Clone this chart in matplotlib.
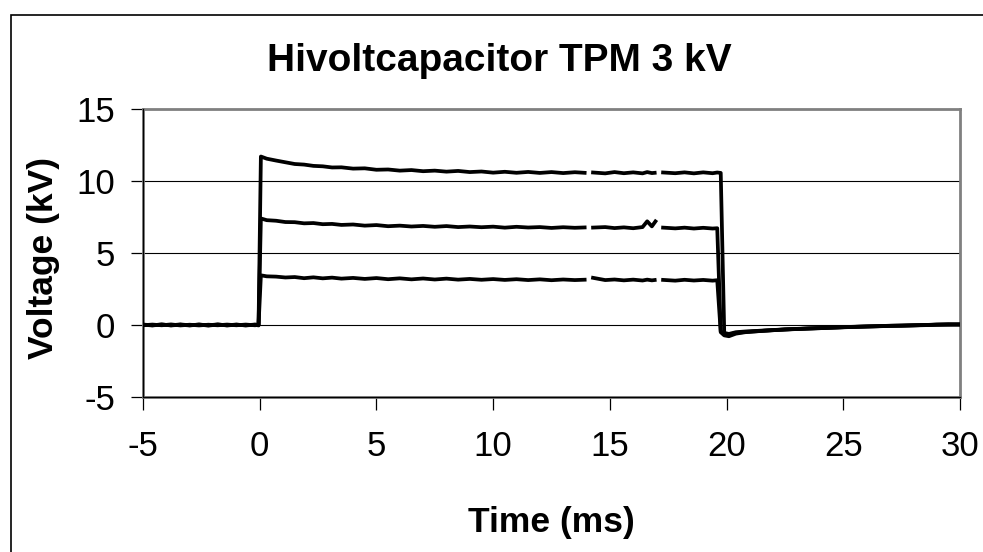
import numpy as np
import matplotlib
matplotlib.use("Agg")
import matplotlib.pyplot as plt
from matplotlib.patches import Rectangle

plt.rcParams['font.family'] = ['Liberation Sans', 'DejaVu Sans']
plt.rcParams['axes.unicode_minus'] = False

# =========== data ===========
nan = np.nan
time_ms = [
    -5.0, -4.6, -4.2, -3.8, -3.4, -3.0, -2.6, -2.2, -1.8, -1.4, -1.0, -0.6, -0.2,
    -0.05, 0.05,
    0.3, 0.7, 1.1, 1.5, 1.9, 2.3, 2.7, 3.1, 3.5, 4.0,
    4.5, 5.0, 5.5, 6.0, 6.5, 7.0, 7.5, 8.0, 8.5, 9.0,
    9.5, 10.0, 10.5, 11.0, 11.5, 12.0, 12.5, 13.0, 13.5, 14.0,
    14.1, 14.2, 14.8, 15.2, 15.6, 16.0, 16.4, 16.6, 16.8, 17.0,
    17.1, 17.2, 17.8, 18.2, 18.6, 19.0, 19.4, 19.6, 19.75, 19.9,
    20.1, 20.4, 20.8, 21.2, 21.6, 22.0, 22.5, 23.0, 23.5, 24.0,
    24.5, 25.0, 25.5, 26.0, 26.5, 27.0, 27.5, 28.0, 28.5, 29.0, 29.5, 30.0,
]

v_high = [
    0.02, -0.03, 0.03, -0.02, 0.04, -0.02, 0.03, -0.04, 0.03, -0.02, 0.03, -0.03, 0.02,
    -0.03, 11.7,
    11.55, 11.42, 11.3, 11.18, 11.14, 11.05, 11.02, 10.94, 10.95, 10.86,
    10.88, 10.78, 10.8, 10.72, 10.76, 10.68, 10.72, 10.65, 10.7, 10.62,
    10.66, 10.58, 10.64, 10.57, 10.63, 10.56, 10.62, 10.55, 10.61, 10.56,
    nan, 10.6, 10.53, 10.62, 10.54, 10.6, 10.53, 10.62, 10.55, 10.58,
    nan, 10.6, 10.54, 10.6, 10.53, 10.6, 10.54, 10.59, 10.56, -0.55,
    -0.62, -0.5, -0.45, -0.42, -0.38, -0.35, -0.3, -0.28, -0.24, -0.22,
    -0.18, -0.15, -0.12, -0.1, -0.08, -0.05, -0.04, -0.02, 0.0, 0.03, 0.02, 0.05,
]

v_mid = [
    -0.02, 0.03, -0.02, 0.04, -0.03, 0.02, -0.03, 0.02, -0.02, 0.03, -0.02, 0.03, -0.02,
    0.02, 7.4,
    7.28, 7.24, 7.15, 7.14, 7.06, 7.08, 7.0, 7.02, 6.95, 6.98,
    6.9, 6.94, 6.86, 6.9, 6.84, 6.88, 6.82, 6.87, 6.8, 6.84,
    6.79, 6.83, 6.76, 6.82, 6.77, 6.8, 6.74, 6.79, 6.75, 6.78,
    nan, 6.76, 6.8, 6.73, 6.78, 6.72, 6.8, 7.2, 6.85, 7.3,
    nan, 6.77, 6.71, 6.76, 6.7, 6.75, 6.7, 6.72, -0.45, -0.6,
    -0.68, -0.55, -0.48, -0.44, -0.4, -0.36, -0.32, -0.28, -0.25, -0.22,
    -0.19, -0.16, -0.13, -0.11, -0.09, -0.06, -0.05, -0.03, -0.01, 0.02, 0.04, 0.03,
]

v_low = [
    0.03, -0.02, 0.04, -0.03, 0.02, -0.03, 0.03, -0.02, 0.04, -0.03, 0.02, -0.02, 0.03,
    0.0, 3.45,
    3.38, 3.36, 3.3, 3.33, 3.25, 3.31, 3.24, 3.29, 3.22, 3.27,
    3.2, 3.26, 3.18, 3.24, 3.17, 3.23, 3.16, 3.22, 3.15, 3.2,
    3.14, 3.19, 3.13, 3.18, 3.12, 3.17, 3.11, 3.16, 3.12, 3.15,
    nan, 3.3, 3.12, 3.16, 3.1, 3.15, 3.09, 3.15, 3.1, 3.14,
    nan, 3.14, 3.08, 3.14, 3.09, 3.13, 3.08, 3.11, -0.5, -0.72,
    -0.78, -0.6, -0.5, -0.45, -0.4, -0.36, -0.31, -0.27, -0.24, -0.21,
    -0.18, -0.15, -0.13, -0.1, -0.08, -0.06, -0.04, -0.02, 0.0, 0.02, 0.05, 0.03,
]

x_ticks = [-5, 0, 5, 10, 15, 20, 25, 30]
y_ticks = [-5, 0, 5, 10, 15]

title = "Hivoltcapacitor TPM 3 kV"
x_label = "Time (ms)"
y_label = "Voltage (kV)"

W, H = 983, 552
fig = plt.figure(figsize=(W / 100, H / 100), dpi=100)

# outer chart border (bottom/right run off the picture)
fig.patches.append(Rectangle((11 / W, -0.1), 1.2, 1 - 15 / H + 0.1,
                             transform=fig.transFigure, fill=False,
                             edgecolor='black', lw=1.2, clip_on=False))

ax = fig.add_axes([143 / W, 1 - 397 / H, (960 - 143) / W, (397 - 109) / H])

for v in (v_high, v_mid, v_low):
    ax.plot(time_ms, v, color='black', lw=2.7, solid_joinstyle='round',
            solid_capstyle='butt', zorder=3)

ax.set_xlim(-5, 30)
ax.set_ylim(-5, 15)
ax.set_xticks(x_ticks)
ax.set_yticks(y_ticks)
ax.yaxis.grid(True, color='black', lw=0.8)
ax.set_axisbelow(True)

for s in ax.spines.values():
    s.set_color('#808080')
    s.set_linewidth(2)
ax.axvline(-5, color='black', lw=0.9, clip_on=False, zorder=4)
ax.axhline(-5, color='black', lw=0.9, clip_on=False, zorder=4)

ax.tick_params(axis='both', direction='out', length=9, width=0.9,
               color='black', labelsize=25)
ax.tick_params(axis='x', pad=15)
ax.tick_params(axis='y', pad=11)

fig.text(499 / W, 1 - 71 / H, title, ha='center', va='baseline',
         fontsize=28, fontweight='bold')
fig.text(551 / W, 1 - 532 / H, x_label, ha='center', va='baseline',
         fontsize=25.5, fontweight='bold')
fig.text(53 / W, 1 - 258 / H, y_label, ha='center', va='baseline',
         rotation=90, rotation_mode='anchor', fontsize=25.5, fontweight='bold')

fig.savefig("out.png", dpi=100)
